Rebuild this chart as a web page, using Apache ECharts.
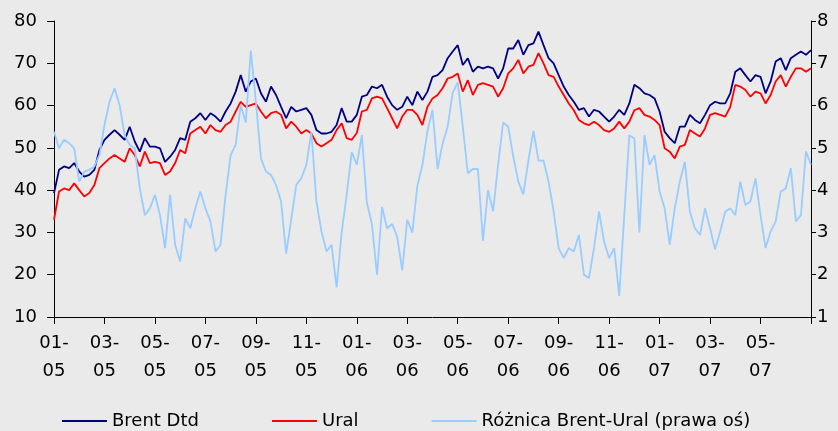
<!DOCTYPE html>
<html>
<head>
<meta charset="utf-8">
<script src="https://cdn.jsdelivr.net/npm/echarts@6/dist/echarts.min.js"></script>
<style>
  html, body { margin: 0; padding: 0; background: #eaeaea; }
  #chart { width: 838px; height: 431px; }
</style>
</head>
<body>
<div id="chart"></div>
<script>
// odczyt co ~0.2 miesiaca, od 01-2005
var brent = [
  39.3, 44.8, 45.6, 45.2, 46.4, 44.4, 43.2, 43.6, 44.8, 49.5, 51.9, 53.1, 54.2, 53.1, 51.9, 55.0, 51.5, 49.1, 52.3, 50.3, 50.3, 49.9, 46.7, 47.9, 49.5,
  52.3, 51.9, 56.2, 57.0, 58.2, 56.6, 58.2, 57.4, 56.2, 58.6, 60.5, 63.3, 67.2, 63.3, 65.7, 66.4, 62.9, 60.9, 64.5, 62.5, 59.7, 57.0, 59.7, 58.6, 59.0,
  59.4, 57.8, 54.2, 53.4, 53.4, 53.8, 55.4, 59.4, 56.2, 56.2, 57.8, 62.1, 62.5, 64.5, 64.1, 64.9, 62.1, 60.1, 59.0, 59.7, 62.1, 60.1, 63.3, 61.3, 63.3,
  66.8, 67.2, 68.4, 71.2, 72.8, 74.3, 69.6, 71.2, 68.0, 69.2, 68.8, 69.2, 68.8, 66.4, 68.8, 73.5, 73.5, 75.5, 72.0, 74.3, 74.7, 77.5, 74.3, 71.2, 70.0,
  67.2, 64.5, 62.5, 60.9, 59.0, 59.4, 57.4, 59.0, 58.6, 57.4, 56.2, 57.4, 59.0, 57.8, 60.5, 64.9, 64.1, 62.9, 62.5, 61.7, 58.6, 53.8, 52.3, 51.1, 55.0,
  55.0, 57.8, 56.6, 55.8, 57.8, 60.1, 60.9, 60.5, 60.5, 62.9, 68.0, 68.8, 67.2, 65.7, 67.2, 66.8, 62.9, 65.7, 70.4, 71.2, 68.4, 71.2, 72.0, 72.8, 72.0, 73.1
];
var ural = [
  33.0, 39.7, 40.4, 40.0, 41.6, 40.0, 38.5, 39.3, 41.2, 45.2, 46.4, 47.5, 48.3, 47.5, 46.7, 49.9, 48.3, 45.6, 49.1, 46.4, 46.7, 46.4, 43.6, 44.4, 46.4,
  49.5, 48.7, 53.4, 54.2, 55.0, 53.4, 55.4, 54.2, 53.8, 55.4, 56.2, 58.6, 60.9, 59.7, 60.1, 60.5, 58.6, 57.0, 58.2, 58.6, 57.8, 54.6, 56.2, 55.0, 53.4,
  54.2, 53.4, 51.1, 50.3, 51.1, 51.9, 54.2, 55.8, 52.3, 51.9, 53.5, 58.6, 59.0, 61.7, 62.1, 61.7, 59.4, 57.0, 54.6, 57.4, 59.0, 59.0, 57.8, 55.4, 59.7,
  61.7, 62.5, 64.1, 66.4, 66.8, 67.6, 63.3, 66.0, 62.5, 64.9, 65.3, 64.9, 64.5, 62.1, 64.1, 67.6, 68.8, 70.8, 67.6, 69.2, 69.6, 72.4, 70.0, 67.2, 66.8,
  64.5, 62.5, 60.5, 58.9, 56.6, 55.8, 55.4, 56.2, 55.4, 54.2, 53.8, 54.6, 56.2, 54.6, 56.2, 58.9, 59.4, 57.8, 57.4, 56.6, 55.4, 49.9, 49.1, 47.5, 50.3,
  50.7, 54.2, 53.4, 52.7, 54.6, 57.8, 58.2, 57.8, 57.4, 59.7, 64.9, 64.5, 63.7, 62.1, 63.3, 62.9, 60.5, 62.5, 65.7, 67.2, 64.5, 66.8, 68.8, 68.8, 68.0, 68.8
];
var roznica = [
  5.38, 4.99, 5.19, 5.11, 4.99, 4.2, 4.44, 4.48, 4.56, 4.83, 5.54, 6.09, 6.41, 6.01, 5.3, 5.07, 4.99, 4.04, 3.41, 3.57, 3.89, 3.41, 2.63, 3.89, 2.71,
  2.31, 3.33, 3.1, 3.57, 3.97, 3.57, 3.26, 2.55, 2.71, 3.89, 4.83, 5.07, 6.01, 5.6, 7.3, 6.1, 4.75, 4.44, 4.36, 4.12, 3.73, 2.5, 3.3, 4.12, 4.28,
  4.6, 5.38, 3.73, 3.02, 2.55, 2.71, 1.7, 3.0, 3.9, 4.9, 4.6, 5.3, 3.7, 3.2, 2.0, 3.6, 3.1, 3.2, 2.9, 2.1, 3.3, 3.0, 4.1, 4.6, 5.4,
  5.9, 4.5, 5.1, 5.5, 6.3, 6.55, 5.5, 4.4, 4.5, 4.5, 2.8, 4.0, 3.5, 4.6, 5.6, 5.5, 4.8, 4.2, 3.9, 4.7, 5.4, 4.7, 4.7, 4.2, 3.5,
  2.63, 2.39, 2.63, 2.55, 2.94, 2.0, 1.92, 2.63, 3.49, 2.78, 2.39, 2.63, 1.5, 3.41, 5.3, 5.22, 3.0, 5.3, 4.6, 4.83, 3.97, 3.57, 2.71, 3.57, 4.2,
  4.67, 3.49, 3.1, 2.94, 3.57, 3.1, 2.6, 3.02, 3.49, 3.57, 3.41, 4.2, 3.65, 3.73, 4.28, 3.41, 2.63, 3.02, 3.26, 3.97, 4.04, 4.52, 3.26, 3.41, 4.91, 4.6
];
var names = ['Brent Dtd', 'Ural', 'Różnica Brent-Ural (prawa oś)'];
var colors = ['#000080', '#ff0000', '#99ccff'];
var step = 0.2; // miesiace miedzy odczytami

function pary(arr) {
  var out = [];
  for (var i = 0; i < arr.length; i++) out.push([i * step, arr[i]]);
  return out;
}
function pad(n) { return (n < 10 ? '0' : '') + n; }

var font = 'DejaVu Sans';
var option = {
  backgroundColor: '#eaeaea',
  animation: false,
  textStyle: { fontFamily: font },
  grid: { left: 54, right: 27, top: 21, bottom: 114 },
  legend: {
    data: names,
    left: 57, top: 407,
    icon: 'rect', itemWidth: 45, itemHeight: 2, itemGap: 73,
    textStyle: { fontFamily: font, fontSize: 18, color: '#000' }
  },
  xAxis: {
    type: 'value', min: 0, max: 30, interval: 2,
    axisLine: { lineStyle: { color: '#000', width: 1 } },
    axisTick: { length: 7, lineStyle: { color: '#000' } },
    splitLine: { show: false },
    axisLabel: {
      color: '#000', fontSize: 18, lineHeight: 28, margin: 12,
      formatter: function (v) {
        if (v >= 30) return '';
        var m = v % 12 + 1, y = 5 + Math.floor(v / 12);
        return pad(m) + '-\n' + pad(y);
      }
    }
  },
  yAxis: [{
    type: 'value', min: 10, max: 80, interval: 10,
    axisLine: { show: true, lineStyle: { color: '#000', width: 1 } },
    axisTick: { show: true, length: 7, lineStyle: { color: '#000' } },
    splitLine: { show: false },
    axisLabel: { color: '#000', fontSize: 18, margin: 17 }
  }, {
    type: 'value', min: 1, max: 8, interval: 1, position: 'right',
    axisLine: { show: true, lineStyle: { color: '#000', width: 1 } },
    axisTick: { show: true, length: 5, lineStyle: { color: '#000' } },
    splitLine: { show: false },
    axisLabel: { color: '#000', fontSize: 18, margin: 6 }
  }],
  series: [
    { name: names[0], type: 'line', data: pary(brent), showSymbol: false, color: colors[0], lineStyle: { width: 1.8 } },
    { name: names[1], type: 'line', data: pary(ural), showSymbol: false, color: colors[1], lineStyle: { width: 1.8 } },
    { name: names[2], type: 'line', yAxisIndex: 1, data: pary(roznica), showSymbol: false, color: colors[2], lineStyle: { width: 1.8 } }
  ]
};

echarts.init(document.getElementById('chart')).setOption(option);
</script>
</body>
</html>
